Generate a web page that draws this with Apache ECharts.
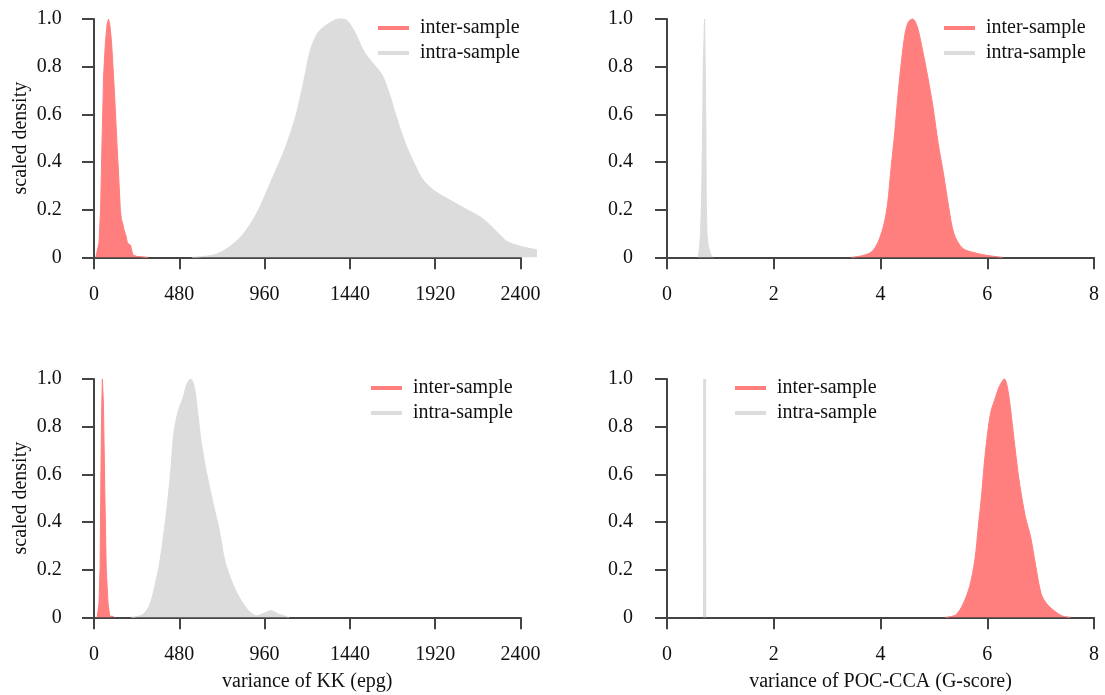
<!DOCTYPE html>
<html>
<head>
<meta charset="utf-8">
<script src="https://cdn.jsdelivr.net/npm/echarts@6/dist/echarts.min.js"></script>
<style>
html,body{margin:0;padding:0;background:#fff;}
#chart{width:1105px;height:695px;}
</style>
</head>
<body>
<div id="chart"></div>
<script>
// ---- data: [x, scaled density] ----
const seriesNames = ['inter-sample', 'intra-sample'];
const yTicks = [0, 0.2, 0.4, 0.6, 0.8, 1.0];
const kkTicks = [0, 480, 960, 1440, 1920, 2400];
const pocTicks = [0, 2, 4, 6, 8];
const xTitles = ['variance of KK (epg)', 'variance of POC-CCA (G-score)'];
const yTitle = 'scaled density';

// top-left: KK, sample set 1
const kk1Inter = [[10,0],[19,0.005],[28,0.06],[37,0.2],[45,0.48],[54,0.76],[64,0.9],[74,0.98],[82,1.0],[90,0.97],[99,0.9],[110,0.76],[120,0.62],[129,0.48],[139,0.34],[148,0.2],[154,0.16],[162,0.14],[169,0.115],[180,0.09],[188,0.06],[198,0.053],[206,0.05],[212,0.03],[219,0.01],[240,0.004],[270,0.002],[304,0]];
const kk1Intra = [[554,0],[674,0.01],[755,0.04],[836,0.094],[916,0.185],[997,0.32],[1077,0.46],[1138,0.6],[1178,0.73],[1218,0.87],[1258,0.94],[1309,0.975],[1379,1.0],[1419,0.996],[1460,0.955],[1520,0.863],[1570,0.814],[1621,0.765],[1661,0.688],[1701,0.59],[1752,0.478],[1802,0.394],[1852,0.324],[1923,0.275],[2003,0.24],[2084,0.206],[2184,0.164],[2265,0.108],[2325,0.066],[2406,0.045],[2493,0.031]];
// top-right: POC-CCA, sample set 1
const poc1Inter = [[3.448,0],[3.644,0.006],[3.84,0.024],[3.971,0.073],[4.069,0.143],[4.134,0.227],[4.2,0.38],[4.265,0.52],[4.33,0.688],[4.395,0.828],[4.461,0.94],[4.526,0.989],[4.604,1.0],[4.689,0.968],[4.787,0.87],[4.885,0.758],[4.983,0.632],[5.081,0.478],[5.179,0.352],[5.277,0.213],[5.375,0.1],[5.538,0.038],[5.8,0.017],[6.06,0.006],[6.29,0]];
const poc1Intra = [[0.586,0],[0.611,0.045],[0.629,0.1],[0.648,0.24],[0.667,0.52],[0.679,0.8],[0.704,1.0],[0.717,0.8],[0.729,0.52],[0.735,0.24],[0.748,0.1],[0.773,0.045],[0.82,0.01],[0.86,0]];
// bottom-left: KK, sample set 2
const kk2Inter = [[18,0],[23,0.005],[28,0.06],[34,0.2],[37.5,0.48],[41,0.76],[44,0.9],[47,1.0],[53,0.9],[56,0.76],[62,0.48],[69,0.2],[79,0.06],[88,0.005],[95,0.002],[107,0.004],[115,0]];
const kk2Intra = [[211,0],[272,0.01],[312,0.05],[342,0.13],[372,0.24],[403,0.41],[429,0.59],[449,0.77],[473,0.863],[503,0.926],[523,0.98],[544,1.0],[564,0.968],[584,0.856],[604,0.73],[634,0.604],[670,0.478],[705,0.366],[735,0.24],[775,0.15],[815,0.087],[866,0.031],[916,0.006],[956,0.017],[997,0.028],[1037,0.014],[1097,0]];
// bottom-right: POC-CCA, sample set 2
const poc2Inter = [[5.212,0],[5.408,0.01],[5.538,0.052],[5.669,0.129],[5.767,0.24],[5.832,0.38],[5.897,0.52],[5.963,0.688],[6.061,0.856],[6.159,0.926],[6.224,0.968],[6.322,1.0],[6.387,0.954],[6.453,0.842],[6.518,0.716],[6.596,0.576],[6.714,0.422],[6.812,0.338],[6.91,0.213],[7.008,0.1],[7.106,0.059],[7.236,0.031],[7.4,0.006],[7.563,0]];
const poc2Intra = [[0.703,0],[0.705,1.0],[0.707,0]];

// ---- styling / layout ----
const RED = '#FF7F7F';
const GRAY = '#DCDCDC';
const AX = '#444444';
const TXT = '#111111';
const FONT = '"Liberation Serif", "DejaVu Serif", serif';
const W = 1105, H = 695;

// visible axis frames (pixel position of first and last tick), ext = extra px for data beyond last tick
const frames = [
  {x0: 94, x1: 520.5, yTop: 19, yBot: 257.3, yOff: 15.3, ext: 40},
  {x0: 667, x1: 1094, yTop: 19, yBot: 257.3, yOff: 17, ext: 8},
  {x0: 94, x1: 520.5, yTop: 379, yBot: 617.3, yOff: 15.3, ext: 40},
  {x0: 667, x1: 1094, yTop: 379, yBot: 617.3, yOff: 17, ext: 8}
];

const grids = [];
frames.forEach(f => grids.push({left: f.x0, right: W - f.x1, top: f.yTop, bottom: H - f.yBot}));
frames.forEach(f => grids.push({left: f.x0, right: W - f.x1 - f.ext, top: f.yTop, bottom: H - f.yBot}));

function ticksFor(i) { return (i % 2 === 0) ? kkTicks : pocTicks; }

const xAxes = [], yAxes = [];
frames.forEach((f, i) => {
  const t = ticksFor(i);
  xAxes.push({
    type: 'value', gridIndex: i,
    min: t[0], max: t[t.length - 1], interval: t[1] - t[0],
    offset: 9.4,
    splitLine: {show: false},
    axisLine: {show: true, lineStyle: {color: AX, width: 2}},
    axisTick: {show: true, length: 12, lineStyle: {color: AX, width: 2}},
    axisLabel: {color: TXT, fontFamily: FONT, fontSize: 20, margin: 18, formatter: v => String(v)},
    name: i >= 2 ? xTitles[i % 2] : '',
    nameLocation: 'middle', nameGap: 45,
    nameTextStyle: {color: TXT, fontFamily: FONT, fontSize: 20}
  });
  yAxes.push({
    type: 'value', gridIndex: i,
    min: yTicks[0], max: yTicks[yTicks.length - 1], interval: yTicks[1] - yTicks[0],
    offset: f.yOff,
    splitLine: {show: false},
    axisLine: {show: true, lineStyle: {color: AX, width: 2}},
    axisTick: {show: true, length: 12, lineStyle: {color: AX, width: 2}},
    axisLabel: {color: TXT, fontFamily: FONT, fontSize: 20, margin: 17,
      formatter: v => (v === 0 ? '0' : v.toFixed(1))},
    name: i % 2 === 0 ? yTitle : '',
    nameLocation: 'middle', nameGap: 48, nameRotate: 90,
    nameTextStyle: {color: TXT, fontFamily: FONT, fontSize: 20}
  });
});
// hidden data axes on the extended grids, same scale as the visible ones
frames.forEach((f, i) => {
  const t = ticksFor(i);
  const lo = t[0], hi = t[t.length - 1];
  const perPx = (hi - lo) / (f.x1 - f.x0);
  xAxes.push({type: 'value', gridIndex: 4 + i, show: false, min: lo, max: hi + f.ext * perPx, splitLine: {show: false}});
  yAxes.push({type: 'value', gridIndex: 4 + i, show: false, min: yTicks[0], max: yTicks[yTicks.length - 1], splitLine: {show: false}});
});

function areaSeries(name, data, panel, color, lw, smooth) {
  return {
    name: name, type: 'line', xAxisIndex: 4 + panel, yAxisIndex: 4 + panel,
    data: data, showSymbol: false, symbol: 'none', clip: false, smooth: smooth,
    itemStyle: {color: color},
    lineStyle: {color: color, width: lw},
    areaStyle: {color: color, opacity: 1},
    emphasis: {disabled: true}, animation: false
  };
}
const legendPos = [
  {left: 378, top: 18}, {left: 944, top: 18},
  {left: 371, top: 378}, {left: 735, top: 378}
];
const legends = legendPos.map(p => ({
  orient: 'vertical', left: p.left, top: p.top, padding: 0,
  data: seriesNames, icon: 'rect', itemWidth: 31, itemHeight: 4, itemGap: 5,
  selectedMode: false,
  itemStyle: {borderWidth: 0},
  textStyle: {color: TXT, fontFamily: FONT, fontSize: 20, lineHeight: 20, padding: [0, 0, 0, 6]}
}));

const chart = echarts.init(document.getElementById('chart'), null, {renderer: 'canvas'});
chart.setOption({
  backgroundColor: '#fff',
  animation: false,
  grid: grids,
  xAxis: xAxes,
  yAxis: yAxes,
  legend: legends,
  series: [
    areaSeries(seriesNames[0], kk1Inter, 0, RED, 1, false),
    areaSeries(seriesNames[1], kk1Intra, 0, GRAY, 1, 0.3),
    areaSeries(seriesNames[0], poc1Inter, 1, RED, 1, 0.3),
    areaSeries(seriesNames[1], poc1Intra, 1, GRAY, 1, false),
    areaSeries(seriesNames[0], kk2Inter, 2, RED, 1, false),
    areaSeries(seriesNames[1], kk2Intra, 2, GRAY, 1, 0.3),
    areaSeries(seriesNames[0], poc2Inter, 3, RED, 1, 0.3),
    areaSeries(seriesNames[1], poc2Intra, 3, GRAY, 3, false)
  ]
});
</script>
</body>
</html>
